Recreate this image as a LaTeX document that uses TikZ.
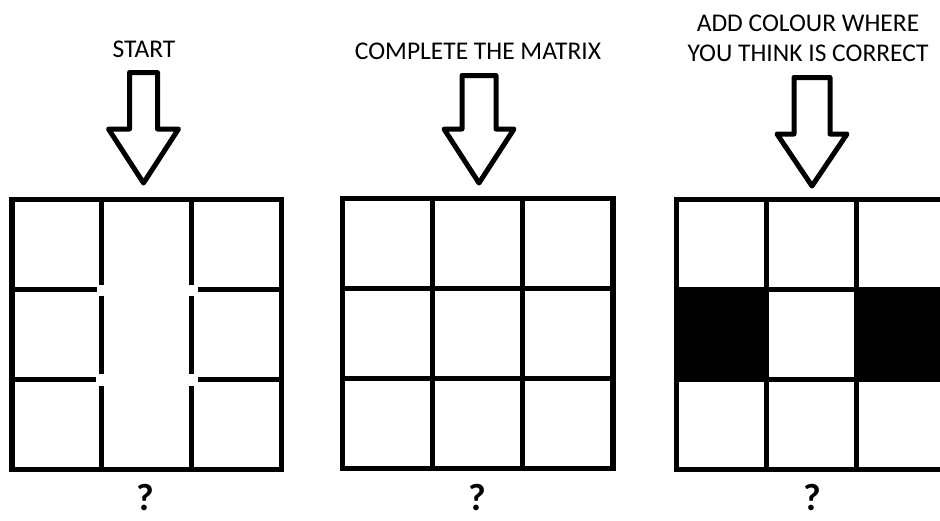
\documentclass[tikz,border=0pt]{standalone}
\usepackage{fontspec}
\setmainfont{Carlito}
\tikzset{
  gridline/.style={line width=5.5pt},
  arrowshape/.style={line width=5pt, line join=round, fill=white},
  label/.style={font=\fontsize{25.5}{30}\selectfont, align=center, inner sep=0pt},
  qmark/.style={font=\fontsize{38}{40}\selectfont\bfseries, inner sep=0pt, anchor=base}
}
\newcommand{\downarrowshape}[5]{% cx, top, shaft half, shoulder, tip
  \draw[arrowshape] (#1-#3,#2) -- (#1+#3,#2) -- (#1+#3,#4) -- (#1+35,#4) -- (#1,#5) -- (#1-35,#4) -- (#1-#3,#4) -- cycle;}
\begin{document}
\begin{tikzpicture}[x=1pt,y=-1pt]
\useasboundingbox (0,0) rectangle (940,520);
\clip (0,0) rectangle (940,520);
\fill[white] (0,0) rectangle (940,520);

% texts
\node[label] (t1) at (144,49) {START};
\node[label] (t2) at (478,51) {COMPLETE THE MATRIX};
\node[label] (t3) at (808,38) {ADD COLOUR WHERE\\YOU THINK IS CORRECT};

% arrows
\downarrowshape{143.5}{72.5}{14}{129}{183}
\downarrowshape{479}{75.5}{17}{129}{183}
\downarrowshape{812}{77.5}{18}{134}{186}

% left grid (with gaps)
\draw[gridline] (12,199.5) rectangle (281.5,469.5);
\draw[gridline] (101.5,199.5) -- (101.5,284.5);
\draw[gridline] (101.5,295.5) -- (101.5,374);
\draw[gridline] (101.5,385.5) -- (101.5,469.5);
\draw[gridline] (191.5,199.5) -- (191.5,284.5);
\draw[gridline] (191.5,295.5) -- (191.5,374);
\draw[gridline] (191.5,385.5) -- (191.5,469.5);
\draw[gridline] (12,289.5) -- (96.5,289.5);
\draw[gridline] (198,289.5) -- (281.5,289.5);
\draw[gridline] (12,379.5) -- (96,379.5);
\draw[gridline] (198,379.5) -- (281.5,379.5);

% middle grid
\draw[gridline] (342.5,198.5) rectangle (613,468.5);
\draw[gridline] (432.5,198.5) -- (432.5,468.5);
\draw[gridline] (522.5,198.5) -- (522.5,468.5);
\draw[gridline] (342.5,288.5) -- (613,288.5);
\draw[gridline] (342.5,378.5) -- (613,378.5);

% right grid
\fill[black] (676.5,289.5) rectangle (766.5,379.5);
\fill[black] (856.5,289.5) rectangle (950,379.5);
\draw[gridline] (676.5,199.5) rectangle (947,469.5);
\draw[gridline] (766.5,199.5) -- (766.5,469.5);
\draw[gridline] (856.5,199.5) -- (856.5,469.5);
\draw[gridline] (676.5,289.5) -- (947,289.5);
\draw[gridline] (676.5,379.5) -- (947,379.5);

% question marks
\node[qmark] (q1) at (145,510) {?};
\node[qmark] (q2) at (477,510) {?};
\node[qmark] (q3) at (812,510) {?};
\end{tikzpicture}
\end{document}
